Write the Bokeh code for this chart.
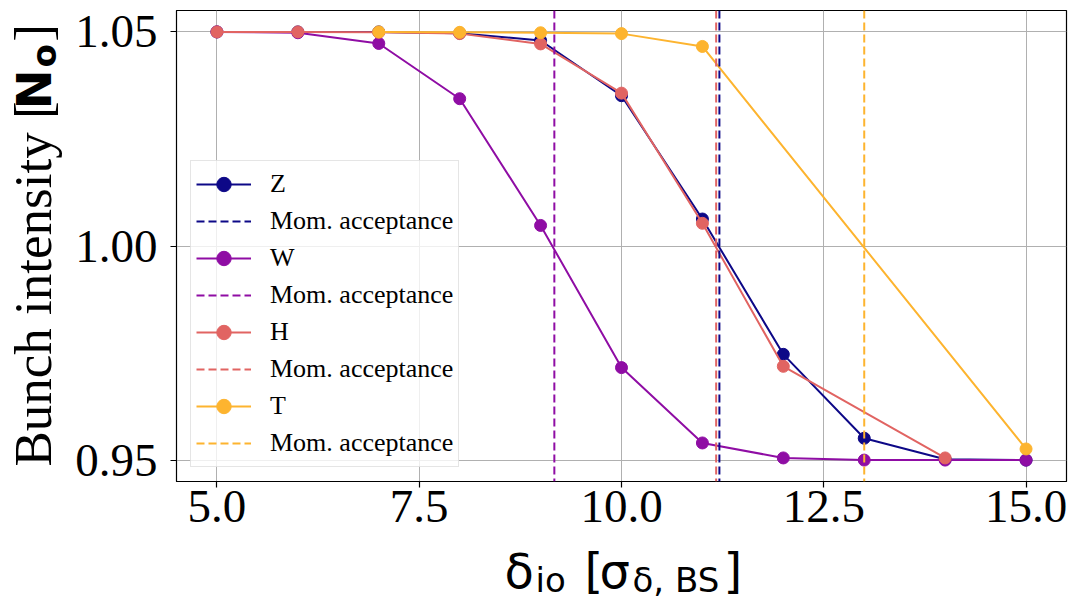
import math
from bokeh.plotting import figure
from bokeh.layouts import row, column
from bokeh.models import (Range1d, Span, Legend, LegendItem, Label, FixedTicker,
                          NumeralTickFormatter)
from bokeh.embed import file_html
from bokeh.resources import INLINE

# ---------------- data ----------------
z_x = [5, 6, 7, 8, 9, 10, 11, 12, 13, 14, 15]
z_y = [1.05, 1.05, 1.05, 1.0497, 1.048, 1.0351, 1.0063, 0.9747, 0.9551, 0.9502, 0.95]
w_x = [5, 6, 7, 8, 9, 10, 11, 12, 13, 14, 15]
w_y = [1.05, 1.0498, 1.0473, 1.0344, 1.0048, 0.9716, 0.954, 0.9505, 0.95, 0.95, 0.95]
h_x = [5, 6, 7, 8, 9, 10, 11, 12, 14]
h_y = [1.05, 1.05, 1.0499, 1.0496, 1.0472, 1.0357, 1.0053, 0.9719, 0.9505]
t_x = [7, 8, 9, 10, 11, 15]
t_y = [1.05, 1.0499, 1.0498, 1.0496, 1.0466, 0.9526]
series_names = ["Z", "W", "H", "T"]
mom_acceptance = [11.21, 9.17, 11.17, 13.0]
x_ticks = [5.0, 7.5, 10.0, 12.5, 15.0]
y_ticks = [0.95, 1.00, 1.05]

colors = ["#0d0887", "#8f0da4", "#e16462", "#fdb42f"]

W, H = 1073, 600
YLAB_W = 70          # width of the strip holding the y-axis title
MAIN_H = 541         # height of the main plot (the x-axis title strip lies below)
FRAME_L, FRAME_T, FRAME_B, FRAME_R = 176, 10, 481, 1066
BASE_FIX = 0.35      # em fraction to lift text so its alphabetic baseline lands on the anchor

p = figure(width=W - YLAB_W, height=MAIN_H, output_backend="svg", toolbar_location=None,
           x_range=Range1d(4.5, 15.5), y_range=Range1d(0.945, 1.055),
           min_border_left=FRAME_L - YLAB_W, min_border_right=W - FRAME_R,
           min_border_top=FRAME_T, min_border_bottom=MAIN_H - FRAME_B)
p.background_fill_color = "white"
p.border_fill_color = "white"
p.outline_line_color = "black"
p.outline_line_width = 1.2

for ax in (p.xaxis[0], p.yaxis[0]):
    ax.major_label_text_font = "Liberation Serif"
    ax.major_label_text_font_size = "47px"
    ax.major_label_text_color = "black"
    ax.axis_line_color = "black"
    ax.major_tick_line_color = "black"
    ax.major_tick_line_width = 1.2
    ax.major_tick_out = 6
    ax.major_tick_in = 0
    ax.minor_tick_line_color = None
    ax.axis_label = None

p.xaxis[0].ticker = FixedTicker(ticks=x_ticks)
p.xaxis[0].formatter = NumeralTickFormatter(format="0.0")
p.xaxis[0].major_label_standoff = 3
p.yaxis[0].ticker = FixedTicker(ticks=y_ticks)
p.yaxis[0].formatter = NumeralTickFormatter(format="0.00")
p.yaxis[0].major_label_standoff = 13

p.xgrid.grid_line_color = "#b0b0b0"
p.ygrid.grid_line_color = "#b0b0b0"
p.xgrid.grid_line_width = 1
p.ygrid.grid_line_width = 1

xs = [z_x, w_x, h_x, t_x]
ys = [z_y, w_y, h_y, t_y]
items = []
for name, x, y, c, acc in zip(series_names, xs, ys, colors, mom_acceptance):
    r_line = p.line(x, y, line_color=c, line_width=2)
    r_pts = p.scatter(x, y, size=12, fill_color=c, line_color=c)
    p.add_layout(Span(location=acc, dimension="height", line_color=c,
                      line_width=2, line_dash="8 4"))
    # legend proxy for the vertical line (a single NaN point draws nothing in the plot)
    r_dash = p.line([acc], [float("nan")], line_color=c, line_width=2, line_dash="8 4")
    items.append(LegendItem(label=name, renderers=[r_line, r_pts]))
    items.append(LegendItem(label="Mom. acceptance", renderers=[r_dash]))

legend = Legend(items=items, location=(14, 14))
legend.label_text_font = "Liberation Serif"
legend.label_text_font_size = "26px"
legend.label_text_color = "black"
legend.glyph_width = 55
legend.glyph_height = 36
legend.label_height = 36
legend.label_standoff = 19
legend.spacing = 1
legend.padding = 5
legend.margin = 0
legend.border_line_color = "#cccccc"
legend.border_line_width = 1
legend.background_fill_color = "white"
legend.background_fill_alpha = 0.8
p.add_layout(legend, "center")


def strip(width, height, top, bottom):
    # data coordinates of the strip equal page pixels (y grows downwards)
    f = figure(width=width, height=height, output_backend="svg", toolbar_location=None,
               x_range=Range1d(0, width), y_range=Range1d(bottom, top),
               x_axis_type=None, y_axis_type=None,
               min_border_left=0, min_border_right=0,
               min_border_top=top, min_border_bottom=height - bottom)
    f.outline_line_color = None
    f.grid.visible = False
    f.background_fill_color = "white"
    f.border_fill_color = "white"
    return f


def add_text(f, x, y, text, font, size, style="normal", rotated=False):
    lift = BASE_FIX * size
    if rotated:
        x, angle = x - lift, math.pi / 2
    else:
        y, angle = y - lift, 0.0
    f.add_layout(Label(x=x, y=y, text=text, text_font=font, text_font_size=f"{size}px",
                       text_font_style=style, text_color="black",
                       text_align="left", text_baseline="alphabetic", angle=angle))


# y-axis title strip: Bunch intensity [N_o]  (frame kept equal to the main frame)
ylab = strip(YLAB_W, MAIN_H, FRAME_T, FRAME_B)
add_text(ylab, 51, 466, "Bunch intensity [", "Liberation Serif", 53, rotated=True)
add_text(ylab, 50, 109, "N", "DejaVu Sans", 48, style="bold", rotated=True)
add_text(ylab, 55, 67, "o", "DejaVu Sans", 34, style="bold", rotated=True)
add_text(ylab, 51, 41, "]", "Liberation Serif", 52, rotated=True)

# x-axis title strip: δ_io [σ_δ, BS]
xlab = strip(W, H - MAIN_H, 0, H - MAIN_H)
oy = MAIN_H
add_text(xlab, 504, 587 - oy, "δ", "DejaVu Sans", 48)
add_text(xlab, 535, 591 - oy, "io", "DejaVu Sans", 34)
add_text(xlab, 584, 587 - oy, "[", "DejaVu Sans", 48)
add_text(xlab, 599, 587 - oy, "σ", "DejaVu Sans", 48)
add_text(xlab, 632, 591 - oy, "δ, BS", "DejaVu Sans", 34)
add_text(xlab, 723, 587 - oy, "]", "DejaVu Sans", 48)

layout = column(row(ylab, p, spacing=0), xlab, spacing=0)
open("out.html", "w").write(file_html(layout, INLINE))
